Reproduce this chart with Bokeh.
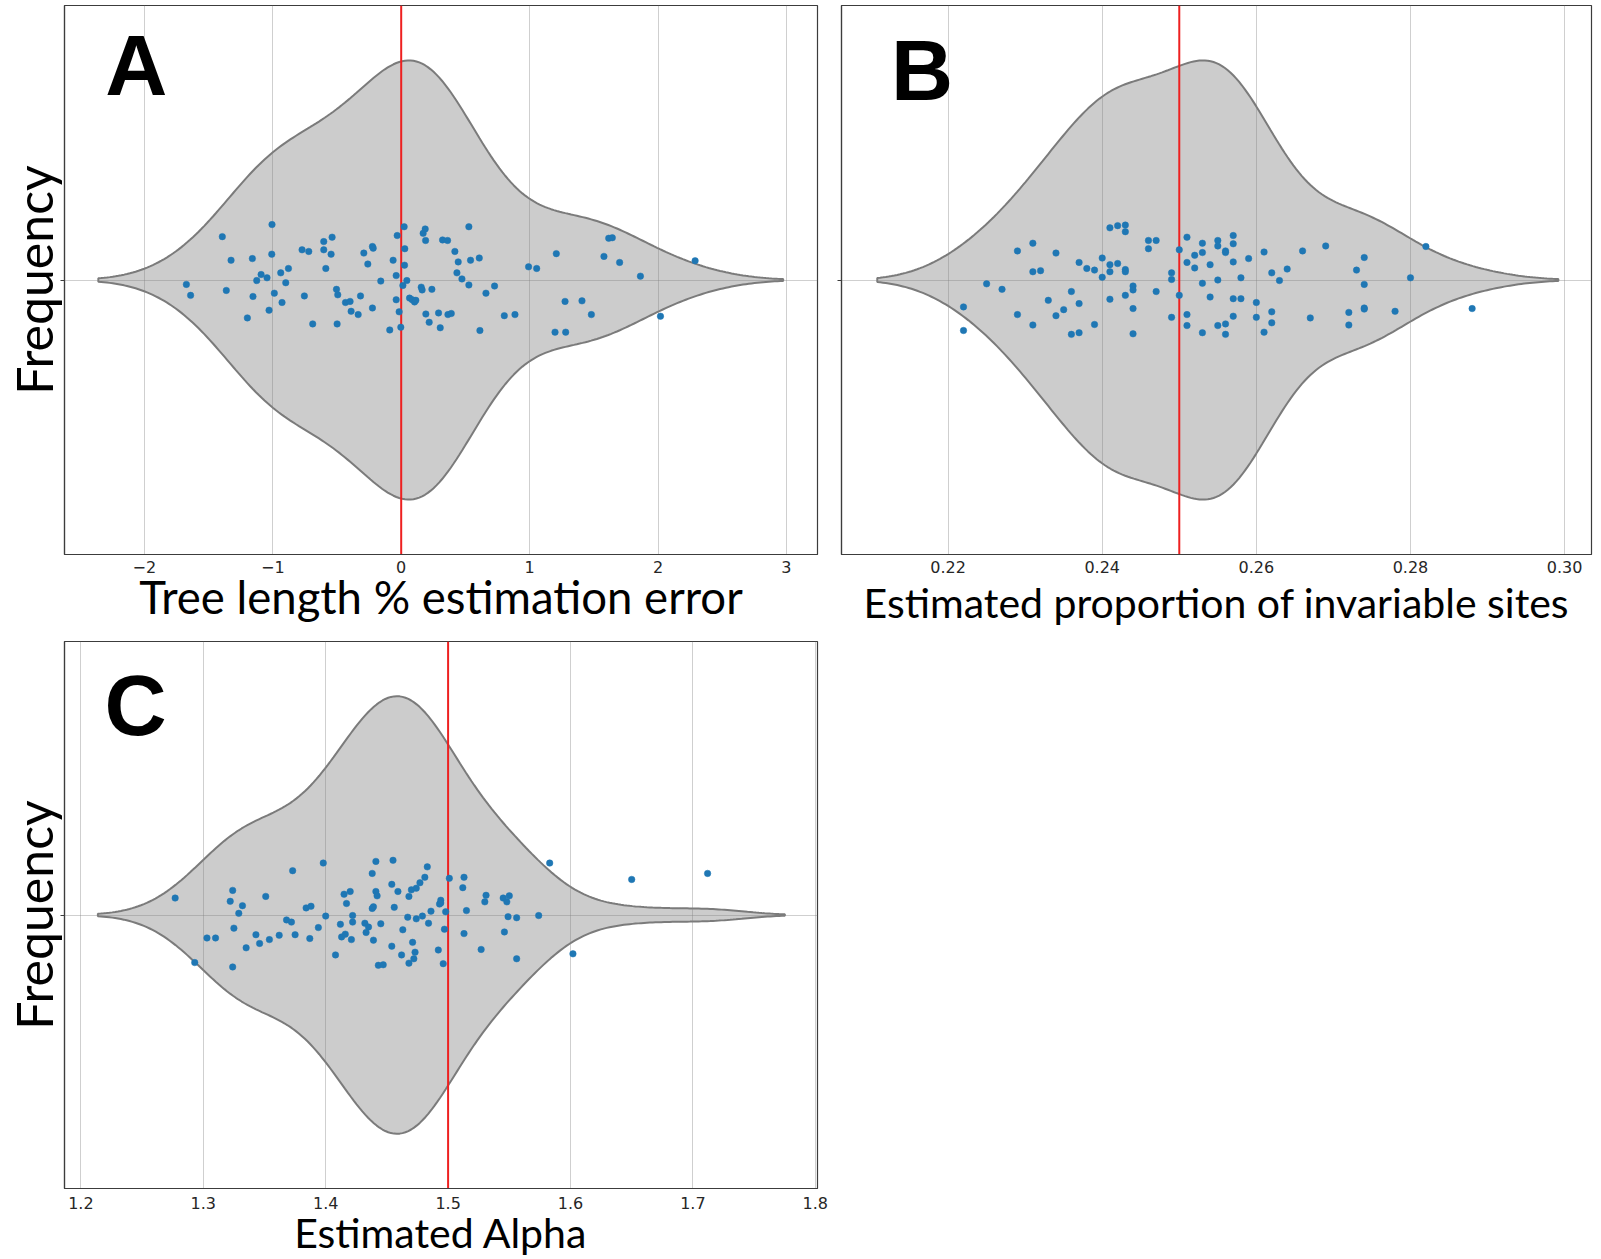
import numpy as np
from bokeh.plotting import figure
from bokeh.models import Range1d, FixedTicker, Label
from bokeh.layouts import column, row
from bokeh.embed import file_html
from bokeh.resources import INLINE

# ---------------- data ----------------
# Panel A: tree length % estimation error (value, strip jitter)
a_values = [-1.673, -1.640, -1.393, -1.362, -1.325, -1.198, -1.159, -1.154, -1.125, -1.091,
            -1.045, -1.029, -1.006, -1.008, -0.988, -0.938, -0.928, -0.899, -0.878, -0.772,
            -0.754, -0.720, -0.689, -0.603, -0.603, -0.587, -0.546, -0.538, -0.504, -0.494,
            -0.499, -0.434, -0.398, -0.390, -0.335, -0.317, -0.291, -0.260, -0.224, -0.218,
            -0.224, -0.159, -0.089, -0.063, -0.039, -0.039, -0.031, -0.016, -0.003, 0.013,
            0.023, 0.028, 0.026, 0.044, 0.065, 0.086, 0.104, 0.114, 0.156, 0.163,
            0.171, 0.187, 0.190, 0.192, 0.218, 0.239, 0.291, 0.304, 0.322, 0.361,
            0.364, 0.390, 0.418, 0.434, 0.444, 0.473, 0.527, 0.527, 0.540, 0.608,
            0.613, 0.660, 0.727, 0.803, 0.886, 0.992, 1.055, 1.198, 1.208, 1.276,
            1.281, 1.408, 1.481, 1.579, 1.616, 1.644, 1.701, 1.863, 2.019, 2.289]
a_jitter = [0.008, 0.028, -0.079, 0.019, -0.036, 0.069, -0.039, 0.030, 0.001, -0.010,
            -0.004, 0.055, -0.101, -0.047, 0.024, -0.013, 0.041, 0.005, -0.021, -0.055,
            0.029, -0.052, 0.080, -0.070, -0.055, -0.021, -0.047, -0.078, 0.017, 0.027,
            0.080, 0.041, 0.039, 0.057, 0.063, 0.029, -0.049, -0.029, -0.061, -0.058,
            0.051, 0.002, 0.091, -0.036, -0.008, 0.036, -0.081, 0.058, 0.086, 0.010,
            -0.097, -0.057, -0.027, 0.001, 0.033, 0.036, 0.040, 0.037, 0.013, 0.018,
            -0.085, -0.093, -0.072, 0.062, 0.077, 0.017, 0.060, 0.087, -0.073, -0.072,
            0.063, 0.061, -0.052, -0.013, -0.033, -0.002, -0.097, 0.009, -0.036, -0.040,
            0.092, 0.024, 0.011, 0.065, 0.063, -0.024, -0.021, 0.095, -0.048, 0.039,
            0.095, 0.038, 0.063, -0.043, -0.076, -0.077, -0.032, -0.007, 0.066, -0.035]
a_true = 0.0
a_ticks = [-2, -1, 0, 1, 2, 3]
a_tick_labels = ["\u22122", "\u22121", "0", "1", "2", "3"]

# Panel B: estimated proportion of invariable sites
b_values = [0.222, 0.222, 0.225, 0.227, 0.229, 0.229, 0.231, 0.231, 0.231, 0.232,
            0.233, 0.234, 0.234, 0.235, 0.236, 0.236, 0.237, 0.237, 0.237, 0.238,
            0.239, 0.239, 0.240, 0.240, 0.241, 0.241, 0.241, 0.241, 0.242, 0.242,
            0.243, 0.243, 0.243, 0.243, 0.243, 0.244, 0.244, 0.244, 0.244, 0.246,
            0.246, 0.247, 0.247, 0.249, 0.249, 0.249, 0.250, 0.250, 0.251, 0.251,
            0.251, 0.251, 0.252, 0.252, 0.253, 0.253, 0.253, 0.253, 0.254, 0.254,
            0.255, 0.255, 0.255, 0.255, 0.256, 0.256, 0.256, 0.256, 0.257, 0.257,
            0.257, 0.257, 0.257, 0.258, 0.258, 0.259, 0.260, 0.260, 0.261, 0.261,
            0.262, 0.262, 0.262, 0.263, 0.264, 0.266, 0.267, 0.269, 0.272, 0.272,
            0.273, 0.274, 0.274, 0.274, 0.274, 0.278, 0.280, 0.282, 0.288]
b_jitter = [0.049, 0.092, 0.007, 0.017, -0.053, 0.063, -0.067, -0.015, 0.082, -0.017,
            0.037, -0.049, 0.065, 0.054, 0.021, 0.099, -0.032, 0.043, 0.096, -0.021,
            -0.018, 0.081, -0.040, -0.005, -0.095, -0.028, -0.015, 0.035, -0.099, -0.030,
            -0.100, -0.088, -0.019, -0.015, 0.028, 0.011, 0.018, 0.052, 0.098, -0.072,
            -0.057, -0.072, 0.021, -0.013, -0.001, 0.068, -0.055, 0.028, -0.078, -0.032,
            0.063, 0.083, -0.045, -0.022, -0.067, -0.050, 0.006, 0.096, -0.028, 0.031,
            -0.072, -0.062, 0.000, 0.083, -0.053, -0.050, 0.080, 0.099, -0.081, -0.066,
            -0.033, 0.034, 0.066, -0.004, 0.034, -0.039, 0.041, 0.068, -0.051, 0.095,
            -0.013, 0.058, 0.078, 0.001, -0.020, -0.053, 0.069, -0.062, 0.059, 0.082,
            -0.018, -0.041, 0.008, 0.051, 0.053, 0.057, -0.004, -0.061, 0.052]
b_true = 0.25
b_ticks = [0.22, 0.24, 0.26, 0.28, 0.30]
b_tick_labels = ["0.22", "0.24", "0.26", "0.28", "0.30"]

# Panel C: estimated alpha
c_values = [1.277, 1.293, 1.303, 1.310, 1.322, 1.324, 1.324, 1.325, 1.329, 1.332,
            1.335, 1.343, 1.346, 1.351, 1.354, 1.362, 1.368, 1.372, 1.373, 1.375,
            1.384, 1.387, 1.388, 1.394, 1.398, 1.400, 1.408, 1.412, 1.413, 1.415,
            1.416, 1.417, 1.420, 1.421, 1.422, 1.422, 1.432, 1.433, 1.435, 1.438,
            1.438, 1.439, 1.439, 1.441, 1.441, 1.442, 1.443, 1.445, 1.447, 1.454,
            1.454, 1.455, 1.456, 1.459, 1.462, 1.463, 1.467, 1.468, 1.468, 1.470,
            1.471, 1.472, 1.473, 1.474, 1.474, 1.477, 1.479, 1.481, 1.483, 1.484,
            1.486, 1.492, 1.493, 1.494, 1.494, 1.496, 1.497, 1.498, 1.501, 1.512,
            1.513, 1.513, 1.515, 1.527, 1.530, 1.531, 1.545, 1.546, 1.548, 1.549,
            1.550, 1.556, 1.556, 1.574, 1.583, 1.602, 1.650, 1.712]
c_jitter = [-0.031, 0.087, 0.042, 0.042, -0.025, -0.045, 0.095, 0.024, -0.003, -0.017,
            0.060, 0.036, 0.052, -0.034, 0.045, 0.037, 0.009, 0.013, -0.081, 0.036,
            -0.013, 0.043, -0.016, 0.023, -0.095, 0.002, 0.073, 0.017, 0.040, -0.038,
            0.035, -0.021, -0.043, 0.045, 0.001, 0.013, 0.015, 0.032, 0.022, -0.012,
            -0.076, -0.015, 0.046, -0.098, -0.043, -0.035, 0.092, 0.016, 0.091, 0.057,
            -0.056, -0.100, -0.014, -0.043, 0.073, 0.027, 0.004, 0.088, -0.034, -0.046,
            0.050, 0.080, 0.068, -0.049, 0.007, -0.059, 0.002, -0.069, -0.088, 0.015,
            -0.007, 0.064, -0.020, -0.027, -0.022, 0.089, 0.026, -0.006, -0.067, -0.050,
            -0.069, 0.034, -0.008, 0.063, -0.024, -0.036, -0.031, 0.031, -0.024, 0.003,
            -0.035, 0.005, 0.080, 0.001, -0.095, 0.071, -0.065, -0.076]
c_true = 1.5
c_ticks = [1.2, 1.3, 1.4, 1.5, 1.6, 1.7, 1.8]
c_tick_labels = ["1.2", "1.3", "1.4", "1.5", "1.6", "1.7", "1.8"]

# ---------------- styling ----------------
FRAME = "#3c3c3c"
GRID = "#808080"
VIOLIN_FILL = "#cccccc"
VIOLIN_LINE = "#7b7b7b"
DOT = "#1f77b4"
TRUE_LINE = "#ee2020"
LABEL_FONT = "Lato"
TICK_FONT = "DejaVu Sans"


def violin_outline(vals, half_width=0.4, cut=2.0, gridsize=240):
    v = np.asarray(vals, dtype=float)
    n = v.size
    bw = v.std(ddof=1) * n ** (-0.2)          # Scott's rule
    grid = np.linspace(v.min() - cut * bw, v.max() + cut * bw, gridsize)
    dens = np.exp(-0.5 * ((grid[:, None] - v[None, :]) / bw) ** 2).sum(axis=1)
    half = half_width * dens / dens.max()
    xs = np.concatenate([grid, grid[::-1]])
    ys = np.concatenate([half, -half[::-1]])
    return xs, ys


def panel(values, jitter, true_val, ticks, tick_labels, xlim, xlabel, xlabel_size, letter,
          letter_xy, width, height, borders, ylabel, tick_standoff, label_standoff):
    left, right, top, bottom = borders
    p = figure(width=width, height=height, x_range=Range1d(*xlim), y_range=Range1d(0.5, -0.5),
               output_backend="svg", toolbar_location=None,
               min_border_left=left, min_border_right=right,
               min_border_top=top, min_border_bottom=bottom)
    p.outline_line_color = FRAME
    p.outline_line_width = 1.2
    p.background_fill_color = "white"
    p.border_fill_color = "white"

    # x axis
    xa = p.xaxis[0]
    xa.ticker = FixedTicker(ticks=ticks)
    xa.major_label_overrides = {t: l for t, l in zip(ticks, tick_labels)}
    xa.major_tick_out = 0
    xa.major_tick_in = 0
    xa.minor_tick_out = 0
    xa.minor_tick_in = 0
    xa.axis_line_color = FRAME
    xa.axis_line_width = 1.2
    xa.major_label_text_font = TICK_FONT
    xa.major_label_text_font_size = "16px"
    xa.major_label_text_color = "#262626"
    xa.major_label_standoff = tick_standoff
    xa.axis_label = xlabel
    xa.axis_label_text_font = LABEL_FONT
    xa.axis_label_text_font_size = xlabel_size
    xa.axis_label_text_font_style = "normal"
    xa.axis_label_text_color = "black"
    xa.axis_label_standoff = label_standoff

    # y axis (single categorical position)
    ya = p.yaxis[0]
    ya.ticker = FixedTicker(ticks=[0])
    ya.major_label_overrides = {0: ""}
    ya.major_tick_out = 4
    ya.major_tick_in = 0
    ya.minor_tick_out = 0
    ya.minor_tick_in = 0
    ya.major_label_standoff = 0
    ya.axis_line_color = FRAME
    ya.axis_line_width = 1.2
    ya.major_tick_line_color = FRAME
    if ylabel:
        ya.axis_label = ylabel
        ya.axis_label_text_font = LABEL_FONT
        ya.axis_label_text_font_size = "50px"
        ya.axis_label_text_font_style = "normal"
        ya.axis_label_text_color = "black"
        ya.axis_label_standoff = -3

    # grid
    p.xgrid.ticker = FixedTicker(ticks=ticks)
    p.ygrid.ticker = FixedTicker(ticks=[0])
    for g in (p.xgrid[0], p.ygrid[0]):
        g.grid_line_color = GRID
        g.grid_line_alpha = 0.38
        g.grid_line_width = 1

    # violin
    vx, vy = violin_outline(values)
    p.patch(vx, vy, fill_color=VIOLIN_FILL, line_color=VIOLIN_LINE, line_width=2, level="image")

    # true value line
    p.segment(x0=[true_val], y0=[-0.5], x1=[true_val], y1=[0.5], line_color=TRUE_LINE, line_width=2)

    # strip points
    p.scatter(x=values, y=jitter, size=6.5, fill_color=DOT, line_color=DOT, line_width=0.5)

    p.add_layout(Label(x=letter_xy[0], y=letter_xy[1], text=letter, text_font="Liberation Sans",
                       text_font_style="bold", text_font_size="86px", text_align="center",
                       text_baseline="alphabetic", text_color="black"))
    return p


pA = panel(a_values, a_jitter, a_true, a_ticks, a_tick_labels, (-2.622, 3.242),
           "Tree length % estimation error", "45.5px", "A", (-2.062, -0.392),
           830, 630, (64, 13, 5, 76), "Frequency", 6, -7)
pB = panel(b_values, b_jitter, b_true, b_ticks, b_tick_labels, (0.20617, 0.30349),
           "Estimated proportion of invariable sites", "41px", "B", (0.21661, -0.382),
           771, 630, (11, 10, 5, 76), None, 6, 2)
pC = panel(c_values, c_jitter, c_true, c_ticks, c_tick_labels, (1.1866, 1.8018),
           "Estimated Alpha", "41px", "C", (1.2447, -0.384),
           830, 629, (64, 13, 11, 70), "Frequency", 8, -4)

layout = column(row(pA, pB), pC)
open("out.html", "w").write(file_html(layout, INLINE))
